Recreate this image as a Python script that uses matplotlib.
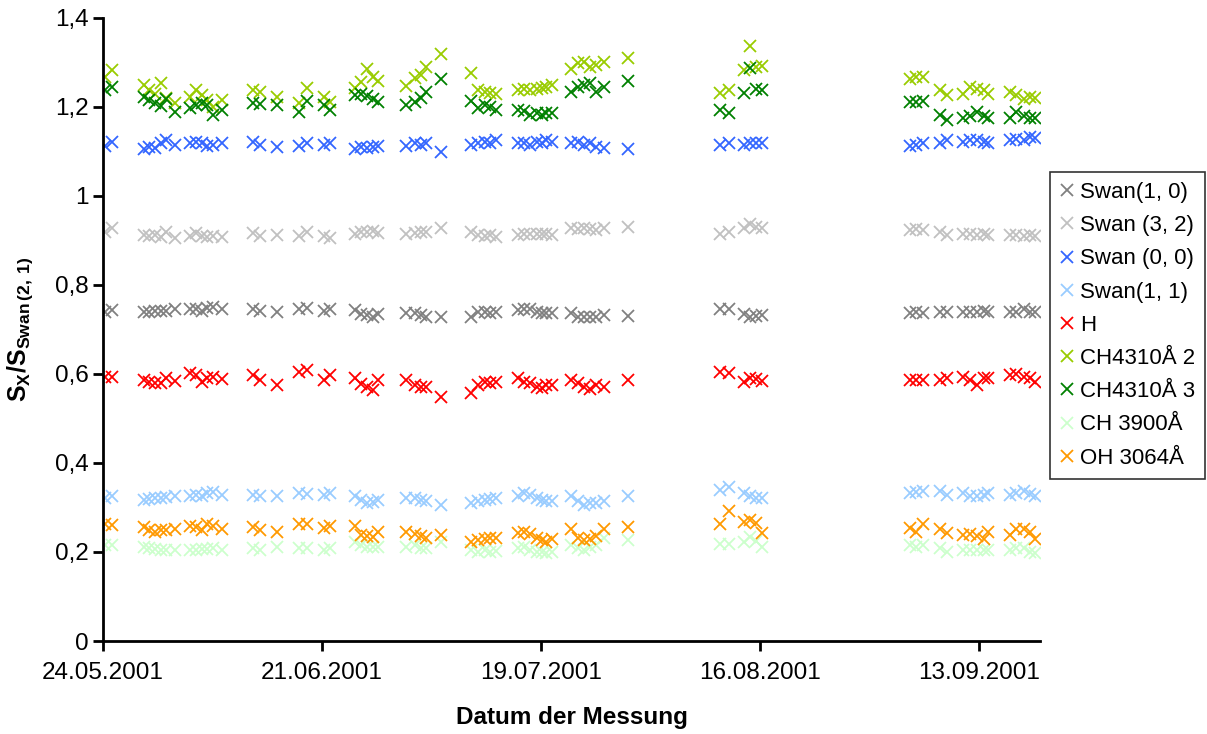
import datetime as dt
import matplotlib
matplotlib.use("Agg")
import matplotlib.pyplot as plt
import matplotlib.dates as mdates
from matplotlib.ticker import FixedLocator, FuncFormatter

plt.rcParams["font.family"] = ["Liberation Sans", "DejaVu Sans"]
plt.rcParams["mathtext.fontset"] = "custom"
plt.rcParams["mathtext.rm"] = "Liberation Sans"
plt.rcParams["mathtext.bf"] = "Liberation Sans:bold"

# =============================
# Data (days after 24.05.2001)
# =============================
days = [0.3, 1.2,
        5.2, 5.9, 6.7, 7.4, 8.1, 9.2,
        11.1, 11.9, 12.6, 13.3, 14.1, 15.2,
        19.2, 20.1, 22.2,
        25.1, 26.1, 28.2, 29.0,
        32.2, 33.0, 33.7, 34.5, 35.2,
        38.8, 39.9, 40.6, 41.3, 43.2,
        47.1, 48.0, 48.8, 49.5, 50.2,
        53.1, 53.8, 54.6, 55.5, 56.1, 56.7, 57.4,
        59.9, 60.8, 61.5, 62.3, 63.0, 64.1,
        67.1,
        78.9, 80.0, 81.9, 82.7, 83.5, 84.2,
        103.2, 104.0, 104.9, 107.0, 107.9,
        110.0, 110.9, 111.7, 112.6, 113.2,
        116.0, 116.8, 117.7, 118.5, 119.2]

swan_10 = [0.740, 0.744,
           0.740, 0.740, 0.742, 0.742, 0.742, 0.745,
           0.747, 0.747, 0.742, 0.749, 0.750, 0.745,
           0.747, 0.742, 0.740,
           0.747, 0.749, 0.742, 0.747,
           0.743, 0.735, 0.732, 0.729, 0.735,
           0.736, 0.738, 0.733, 0.729, 0.727,
           0.729, 0.740, 0.740, 0.738, 0.740,
           0.744, 0.747, 0.747, 0.740, 0.738, 0.736, 0.736,
           0.736, 0.729, 0.727, 0.729, 0.729, 0.733,
           0.731,
           0.747, 0.747, 0.735, 0.729, 0.731, 0.733,
           0.738, 0.740, 0.738, 0.740, 0.740,
           0.740, 0.740, 0.740, 0.742, 0.740,
           0.740, 0.740, 0.745, 0.740, 0.740]

swan_32 = [0.918, 0.927,
           0.912, 0.910, 0.912, 0.908, 0.918, 0.905,
           0.910, 0.916, 0.910, 0.908, 0.909, 0.907,
           0.916, 0.909, 0.912,
           0.910, 0.918, 0.910, 0.905,
           0.914, 0.918, 0.920, 0.922, 0.916,
           0.915, 0.916, 0.920, 0.918, 0.927,
           0.920, 0.912, 0.910, 0.912, 0.907,
           0.912, 0.914, 0.914, 0.914, 0.914, 0.914, 0.912,
           0.927, 0.925, 0.927, 0.925, 0.924, 0.929,
           0.930,
           0.915, 0.920, 0.927, 0.938, 0.930, 0.927,
           0.924, 0.925, 0.924, 0.918, 0.912,
           0.915, 0.915, 0.913, 0.915, 0.913,
           0.913, 0.913, 0.911, 0.913, 0.911]

swan_00 = [1.112, 1.122,
           1.105, 1.110, 1.108, 1.120, 1.125, 1.115,
           1.120, 1.122, 1.118, 1.112, 1.115, 1.118,
           1.122, 1.115, 1.110,
           1.112, 1.120, 1.115, 1.120,
           1.105, 1.110, 1.108, 1.110, 1.112,
           1.112, 1.118, 1.115, 1.118, 1.098,
           1.115, 1.118, 1.122, 1.120, 1.125,
           1.120, 1.118, 1.115, 1.122, 1.118, 1.125, 1.122,
           1.118, 1.122, 1.115, 1.118, 1.110, 1.108,
           1.105,
           1.115, 1.118, 1.115, 1.118, 1.120, 1.118,
           1.112, 1.115, 1.118, 1.120, 1.125,
           1.122, 1.125, 1.125, 1.122, 1.120,
           1.125, 1.128, 1.125, 1.132, 1.130]

swan_11 = [0.321, 0.325,
           0.317, 0.318, 0.321, 0.322, 0.324, 0.326,
           0.326, 0.328, 0.325, 0.332, 0.334, 0.328,
           0.328, 0.325, 0.325,
           0.332, 0.331, 0.328, 0.333,
           0.326, 0.317, 0.309, 0.312, 0.317,
           0.321, 0.321, 0.317, 0.314, 0.306,
           0.309, 0.314, 0.317, 0.319, 0.321,
           0.325, 0.332, 0.329, 0.322, 0.317, 0.314, 0.314,
           0.325, 0.314, 0.306, 0.309, 0.310, 0.314,
           0.325,
           0.339, 0.345, 0.332, 0.326, 0.322, 0.321,
           0.332, 0.334, 0.336, 0.336, 0.328,
           0.332, 0.326, 0.325, 0.328, 0.332,
           0.328, 0.332, 0.336, 0.331, 0.325]

h_line = [0.594, 0.594,
          0.587, 0.583, 0.579, 0.580, 0.590, 0.585,
          0.602, 0.598, 0.583, 0.592, 0.594, 0.589,
          0.598, 0.587, 0.575,
          0.605, 0.609, 0.587, 0.598,
          0.590, 0.578, 0.571, 0.564, 0.587,
          0.587, 0.575, 0.571, 0.571, 0.549,
          0.557, 0.575, 0.583, 0.579, 0.583,
          0.590, 0.583, 0.579, 0.571, 0.568, 0.575, 0.575,
          0.587, 0.579, 0.570, 0.566, 0.575, 0.570,
          0.587,
          0.605, 0.602, 0.583, 0.592, 0.589, 0.585,
          0.587, 0.587, 0.587, 0.587, 0.590,
          0.594, 0.587, 0.575, 0.592, 0.590,
          0.598, 0.600, 0.594, 0.590, 0.583]

ch4310_2 = [1.268, 1.282,
            1.249, 1.238, 1.230, 1.253, 1.220, 1.208,
            1.223, 1.238, 1.227, 1.215, 1.201, 1.216,
            1.238, 1.234, 1.223,
            1.208, 1.242, 1.223, 1.212,
            1.242, 1.257, 1.285, 1.268, 1.258,
            1.248, 1.265, 1.272, 1.290, 1.320,
            1.276, 1.238, 1.234, 1.232, 1.230,
            1.238, 1.240, 1.238, 1.240, 1.242, 1.245, 1.249,
            1.285, 1.298, 1.302, 1.289, 1.295, 1.302,
            1.310,
            1.231, 1.238, 1.283, 1.336, 1.290, 1.292,
            1.264, 1.268, 1.268, 1.238, 1.227,
            1.230, 1.244, 1.240, 1.238, 1.230,
            1.234, 1.226, 1.218, 1.223, 1.220]

ch4310_3 = [1.238, 1.244,
            1.223, 1.216, 1.208, 1.203, 1.219, 1.189,
            1.197, 1.205, 1.210, 1.205, 1.182, 1.193,
            1.208, 1.206, 1.205,
            1.189, 1.214, 1.205, 1.193,
            1.227, 1.230, 1.225, 1.218, 1.212,
            1.205, 1.212, 1.220, 1.234, 1.262,
            1.214, 1.197, 1.205, 1.200, 1.193,
            1.193, 1.190, 1.182, 1.186, 1.183, 1.186, 1.186,
            1.234, 1.245, 1.249, 1.253, 1.234, 1.246,
            1.259,
            1.193, 1.186, 1.232, 1.288, 1.240, 1.238,
            1.212, 1.212, 1.214, 1.182, 1.171,
            1.175, 1.180, 1.189, 1.180, 1.175,
            1.175, 1.189, 1.180, 1.175, 1.175]

ch3900 = [0.215, 0.216,
          0.212, 0.208, 0.206, 0.205, 0.205, 0.205,
          0.205, 0.205, 0.207, 0.207, 0.208, 0.205,
          0.208, 0.205, 0.212,
          0.208, 0.208, 0.205, 0.208,
          0.223, 0.216, 0.212, 0.212, 0.212,
          0.212, 0.216, 0.208, 0.210, 0.223,
          0.205, 0.201, 0.205, 0.201, 0.203,
          0.208, 0.212, 0.205, 0.201, 0.199, 0.197, 0.200,
          0.216, 0.208, 0.205, 0.212, 0.216, 0.231,
          0.228,
          0.219, 0.219, 0.223, 0.234, 0.225, 0.212,
          0.216, 0.212, 0.216, 0.208, 0.201,
          0.205, 0.205, 0.205, 0.205, 0.205,
          0.205, 0.208, 0.208, 0.201, 0.197]

oh3064 = [0.264, 0.260,
          0.256, 0.250, 0.246, 0.249, 0.250, 0.251,
          0.258, 0.256, 0.250, 0.264, 0.258, 0.251,
          0.256, 0.250, 0.246,
          0.264, 0.262, 0.253, 0.258,
          0.258, 0.238, 0.236, 0.233, 0.246,
          0.246, 0.240, 0.236, 0.231, 0.238,
          0.223, 0.226, 0.229, 0.231, 0.231,
          0.242, 0.246, 0.240, 0.231, 0.226, 0.222, 0.229,
          0.251, 0.231, 0.226, 0.229, 0.235, 0.251,
          0.256,
          0.264, 0.293, 0.267, 0.272, 0.265, 0.242,
          0.253, 0.246, 0.262, 0.251, 0.242,
          0.238, 0.240, 0.235, 0.229, 0.246,
          0.238, 0.251, 0.252, 0.245, 0.229]

series = [
    ("Swan(1, 0)", swan_10, "#808080"),
    ("Swan (3, 2)", swan_32, "#C0C0C0"),
    ("Swan (0, 0)", swan_00, "#3366FF"),
    ("Swan(1, 1)", swan_11, "#99CCFF"),
    ("H", h_line, "#FF0000"),
    ("CH4310Å 2", ch4310_2, "#99CC00"),
    ("CH4310Å 3", ch4310_3, "#008000"),
    ("CH 3900Å", ch3900, "#CCFFCC"),
    ("OH 3064Å", oh3064, "#FF9900"),
]

start = mdates.date2num(dt.datetime(2001, 5, 24))
x = [start + d for d in days]

# =============================
# Plot
# =============================
fig = plt.figure(figsize=(12.07, 7.34), dpi=100)
ax = fig.add_axes([0.0853, 0.1267, 0.7763, 0.8488])

for name, vals, col in series:
    ax.plot(x, vals, linestyle="none", marker="x", markersize=9,
            markeredgewidth=1.3, color=col, label=name)

ax.set_xlim(start, start + 119.8)
ax.set_ylim(0, 1.4)

xt = [start + 28 * i for i in range(5)]
ax.xaxis.set_major_locator(FixedLocator(xt))
ax.xaxis.set_major_formatter(mdates.DateFormatter("%d.%m.%Y"))
yt = [0, 0.2, 0.4, 0.6, 0.8, 1.0, 1.2, 1.4]
ax.yaxis.set_major_locator(FixedLocator(yt))
ax.yaxis.set_major_formatter(FuncFormatter(lambda v, p: f"{v:g}".replace(".", ",")))

for s in ["top", "right"]:
    ax.spines[s].set_visible(False)
for s in ["left", "bottom"]:
    ax.spines[s].set_linewidth(2)
ax.tick_params(axis="both", direction="out", length=7, width=2, labelsize=17.5)
ax.tick_params(axis="x", pad=8)

ax.set_xlabel("Datum der Messung", fontsize=17.5, fontweight="bold", labelpad=16)
ax.set_ylabel(r"$\mathbf{S_X/S_{Swan\,(2,\,1)}}$", fontsize=18, labelpad=14)

leg = ax.legend(loc="upper left", bbox_to_anchor=(1.0107, 0.753), borderaxespad=0,
                fontsize=16, frameon=True, fancybox=False, edgecolor="black",
                handlelength=0.6, handletextpad=0.3, labelspacing=0.55,
                borderpad=0.45, markerscale=0.9)
leg.get_frame().set_linewidth(1.2)

fig.savefig("out.png", dpi=100)
